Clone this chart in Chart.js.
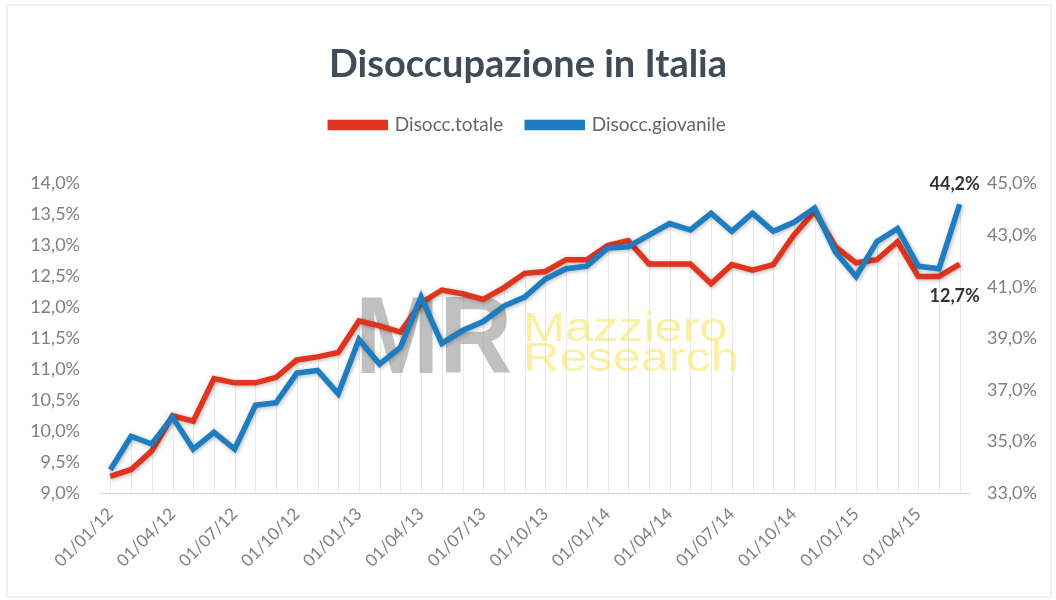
<!DOCTYPE html>
<html>
<head>
<meta charset="utf-8">
<script src="https://cdn.jsdelivr.net/npm/chart.js@4.4.1/dist/chart.umd.min.js"></script>
<style>
  html, body { margin: 0; padding: 0; background: #fff; }
  #wrap { width: 1056px; height: 600px; position: relative; }
  #myChart { position: absolute; left: 0; top: 0; }
  #frame { position: absolute; left: 6px; top: 4px; right: 4px; bottom: 2px; border: 2px solid #f2f2f2; pointer-events: none; }
</style>
</head>
<body>
<div id="wrap">
  <canvas id="myChart" width="1056" height="600"></canvas>
  <div id="frame"></div>
</div>
<script>
let months = [
  '01/01/12', '01/02/12', '01/03/12', '01/04/12', '01/05/12', '01/06/12',
  '01/07/12', '01/08/12', '01/09/12', '01/10/12', '01/11/12', '01/12/12',
  '01/01/13', '01/02/13', '01/03/13', '01/04/13', '01/05/13', '01/06/13',
  '01/07/13', '01/08/13', '01/09/13', '01/10/13', '01/11/13', '01/12/13',
  '01/01/14', '01/02/14', '01/03/14', '01/04/14', '01/05/14', '01/06/14',
  '01/07/14', '01/08/14', '01/09/14', '01/10/14', '01/11/14', '01/12/14',
  '01/01/15', '01/02/15', '01/03/15', '01/04/15', '01/05/15', '01/06/15'
];

// tasso di disoccupazione totale (asse sinistro)
let totale = [
  9.27, 9.38, 9.68, 10.25, 10.16, 10.85, 10.78, 10.78, 10.87, 11.15, 11.2, 11.27,
  11.78, 11.7, 11.6, 12.07, 12.28, 12.22, 12.13, 12.32, 12.55, 12.58, 12.77, 12.77,
  13.0, 13.08, 12.7, 12.7, 12.7, 12.38, 12.69, 12.6, 12.69, 13.17, 13.55, 12.98,
  12.72, 12.77, 13.06, 12.5, 12.5, 12.7
];

// disoccupazione giovanile (asse destro)
let giovanile = [
  33.9, 35.2, 34.9, 35.95, 34.7, 35.35, 34.7, 36.4, 36.5, 37.65, 37.75, 36.85,
  38.95, 38.0, 38.65, 40.6, 38.8, 39.3, 39.65, 40.25, 40.6, 41.3, 41.7, 41.8,
  42.5, 42.55, 43.0, 43.45, 43.2, 43.85, 43.15, 43.85, 43.15, 43.5, 44.05, 42.35,
  41.4, 42.75, 43.25, 41.8, 41.7, 44.2
];

let leftTicks = [9, 9.5, 10, 10.5, 11, 11.5, 12, 12.5, 13, 13.5, 14];
let rightTicks = [33, 35, 37, 39, 41, 43, 45];

let colors = ['#E0341E', '#1E7CC0'];
let font = "Lato, 'Liberation Sans', sans-serif";

function pct(v) {
  return v.toFixed(1).replace('.', ',') + '%';
}

// spazio vuoto tra legenda e grafico
const legendGap = {
  id: 'legendGap',
  beforeInit(chart) {
    Chart.layouts.addBox(chart, {
      position: 'top',
      weight: 0,
      fullSize: true,
      options: {},
      top: 0, left: 0, right: 0, bottom: 0, width: 0, height: 0,
      update(maxWidth) {
        this.width = maxWidth;
        this.height = 39;
      },
      isHorizontal() { return true; },
      getPadding() { return { top: 0, left: 0, right: 0, bottom: 0 }; },
      draw() {}
    });
  }
};

// linee verticali dai punti all'asse
const dropLines = {
  id: 'dropLines',
  beforeDatasetsDraw(chart) {
    const ctx = chart.ctx;
    const bottom = chart.chartArea.bottom;
    const a = chart.getDatasetMeta(0).data;
    const b = chart.getDatasetMeta(1).data;
    ctx.save();
    ctx.strokeStyle = '#e9e9e9';
    ctx.lineWidth = 1;
    for (let i = 0; i < a.length; i++) {
      const x = Math.round(a[i].x) + 0.5;
      const top = Math.min(a[i].y, b[i].y);
      ctx.beginPath();
      ctx.moveTo(x, top);
      ctx.lineTo(x, bottom);
      ctx.stroke();
    }
    ctx.restore();
  }
};

// logo in filigrana
const watermark = {
  id: 'watermark',
  beforeDatasetsDraw(chart) {
    const ctx = chart.ctx;
    const area = chart.chartArea;
    const x = area.left + 255;
    const y = area.top + 189;
    ctx.save();
    ctx.textBaseline = 'alphabetic';
    ctx.fillStyle = 'rgba(150,150,150,0.6)';
    ctx.font = "bold 110px 'Liberation Sans', sans-serif";
    ctx.save();
    ctx.translate(x, y);
    ctx.scale(0.92, 1);
    ctx.fillText('MR', 0, 0);
    ctx.restore();
    ctx.fillStyle = 'rgba(246,228,90,0.55)';
    ctx.font = "40px 'Liberation Sans', sans-serif";
    ctx.save();
    ctx.translate(x + 168, y - 32);
    ctx.scale(1.26, 1);
    ctx.fillText('Mazziero', 0, 0);
    ctx.fillText('Research', 0, 30);
    ctx.restore();
    ctx.restore();
  }
};

// ombra leggera sotto le linee
const lineShadow = {
  id: 'lineShadow',
  beforeDatasetDraw(chart) {
    const ctx = chart.ctx;
    ctx.save();
    ctx.shadowColor = 'rgba(0,0,0,0.3)';
    ctx.shadowBlur = 4;
    ctx.shadowOffsetX = 1;
    ctx.shadowOffsetY = 1;
  },
  afterDatasetDraw(chart) {
    chart.ctx.restore();
  }
};

// etichette sull'ultimo valore
const lastLabels = {
  id: 'lastLabels',
  afterDatasetsDraw(chart) {
    const ctx = chart.ctx;
    const n = months.length - 1;
    const pRed = chart.getDatasetMeta(0).data[n];
    const pBlue = chart.getDatasetMeta(1).data[n];
    ctx.save();
    ctx.fillStyle = '#333333';
    ctx.font = 'bold 18px ' + font;
    ctx.textAlign = 'center';
    ctx.textBaseline = 'middle';
    ctx.fillText(pct(giovanile[n]), pBlue.x - 5, pBlue.y - 20);
    ctx.fillText(pct(totale[n]), pRed.x - 5, pRed.y + 32);
    ctx.restore();
  }
};

let ctx = document.getElementById('myChart').getContext('2d');

let chart = new Chart(ctx, {
  type: 'line',
  data: {
    labels: months,
    datasets: [{
      label: 'Disocc.totale',
      data: totale,
      yAxisID: 'y',
      borderColor: colors[0],
      backgroundColor: colors[0],
      borderWidth: 5.5,
      pointRadius: 0,
      tension: 0,
      order: 1
    }, {
      label: 'Disocc.giovanile',
      data: giovanile,
      yAxisID: 'y1',
      borderColor: colors[1],
      backgroundColor: colors[1],
      borderWidth: 5.5,
      pointRadius: 0,
      tension: 0,
      order: 0
    }]
  },
  options: {
    responsive: false,
    animation: false,
    layout: { padding: { top: 42, left: 10, right: 10, bottom: 10 } },
    plugins: {
      title: {
        display: true,
        text: 'Disoccupazione in Italia',
        color: '#404b57',
        font: { family: font, size: 38, weight: 'bold' },
        padding: { top: 0, bottom: 4 }
      },
      legend: {
        display: true,
        labels: {
          boxWidth: 55,
          boxHeight: 5,
          color: '#666666',
          font: { family: font, size: 19 },
          padding: 24,
          sort: (a, b) => a.datasetIndex - b.datasetIndex
        }
      },
      tooltip: { enabled: false }
    },
    scales: {
      x: {
        offset: true,
        grid: { display: false },
        border: { display: true, color: '#d9d9d9', width: 1 },
        afterFit: (s) => { s.height = 97; },
        ticks: {
          autoSkip: false,
          maxRotation: 45,
          minRotation: 45,
          color: '#7f7f7f',
          font: { family: font, size: 17 },
          callback: function (v, i) { return i % 3 === 0 ? months[i] : null; }
        }
      },
      y: {
        position: 'left',
        min: leftTicks[0],
        max: leftTicks[leftTicks.length - 1],
        grid: { display: false },
        border: { display: false },
        afterFit: (s) => { s.width = 90; },
        afterBuildTicks: (s) => { s.ticks = leftTicks.map(v => ({ value: v })); },
        ticks: {
          padding: 12,
          color: '#7f7f7f',
          font: { family: font, size: 18 },
          callback: (v) => pct(v)
        }
      },
      y1: {
        position: 'right',
        min: rightTicks[0],
        max: rightTicks[rightTicks.length - 1],
        grid: { display: false },
        border: { display: false },
        afterFit: (s) => { s.width = 76; },
        afterBuildTicks: (s) => { s.ticks = rightTicks.map(v => ({ value: v })); },
        ticks: {
          padding: 9,
          color: '#7f7f7f',
          font: { family: font, size: 18 },
          callback: (v) => pct(v)
        }
      }
    }
  },
  plugins: [legendGap, dropLines, watermark, lineShadow, lastLabels]
});
</script>
</body>
</html>
